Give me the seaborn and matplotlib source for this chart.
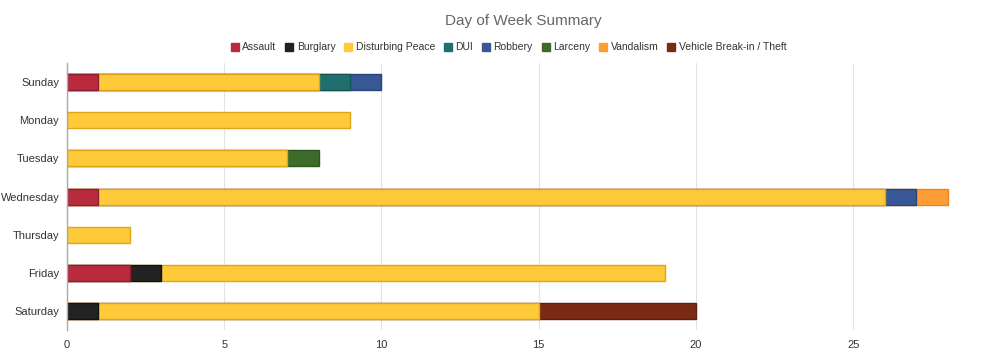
import numpy as np
import pandas as pd
import matplotlib
matplotlib.use("Agg")
import matplotlib.pyplot as plt
from matplotlib.lines import Line2D
import seaborn as sns

days = ["Sunday", "Monday", "Tuesday", "Wednesday", "Thursday", "Friday", "Saturday"]
crime_types = ["Assault", "Burglary", "Disturbing Peace", "DUI", "Robbery",
               "Larceny", "Vandalism", "Vehicle Break-in / Theft"]

assault = [1, 0, 0, 1, 0, 2, 0]
burglary = [0, 0, 0, 0, 0, 1, 1]
disturbing_peace = [7, 9, 7, 25, 2, 16, 14]
dui = [1, 0, 0, 0, 0, 0, 0]
robbery = [1, 0, 0, 1, 0, 0, 0]
larceny = [0, 0, 1, 0, 0, 0, 0]
vandalism = [0, 0, 0, 1, 0, 0, 0]
vehicle = [0, 0, 0, 0, 0, 0, 5]

colors = ["#b82a3e", "#222222", "#ffca3a", "#1f6f6f", "#385895",
          "#3d6b2c", "#ff9d35", "#7b2b14"]
edges = ["#8f1e2e", "#111111", "#e0a419", "#175656", "#2a4577",
         "#2f5420", "#e8852a", "#5e200e"]

sns.set_theme(style="white")
plt.rcParams["font.family"] = ["Liberation Sans", "DejaVu Sans"]

df = pd.DataFrame({"day": days, "Assault": assault, "Burglary": burglary,
                   "Disturbing Peace": disturbing_peace, "DUI": dui,
                   "Robbery": robbery, "Larceny": larceny,
                   "Vandalism": vandalism, "Vehicle Break-in / Theft": vehicle})
cum = df[crime_types].cumsum(axis=1)

fig = plt.figure(figsize=(9.85, 3.58), dpi=100)
ax = fig.add_axes([0.068, 0.078, 0.91, 0.746])

# draw cumulative totals from the top of the stack down so each layer shows its own segment
for i in range(len(crime_types) - 1, -1, -1):
    name = crime_types[i]
    tmp = pd.DataFrame({"day": days, "total": cum[name].values})
    n_before = len(ax.patches)
    sns.barplot(data=tmp, x="total", y="day", order=days, color=colors[i],
                edgecolor=edges[i], linewidth=1.0, width=0.42, errorbar=None,
                saturation=1, ax=ax)
    seg = df[name].values
    for p, v in zip(ax.patches[n_before:], seg):
        if v == 0:
            p.set_visible(False)

ax.set_xlim(0, 28.5)
ax.set_ylim(6.5, -0.5)
ax.set_xticks([0, 5, 10, 15, 20, 25])
ax.set_xlabel("")
ax.set_ylabel("")
ax.xaxis.grid(True, color="#e3e3e3", linewidth=0.8)
ax.set_axisbelow(True)
for s in ["top", "right", "bottom"]:
    ax.spines[s].set_visible(False)
ax.spines["left"].set_color("#aaaaaa")
ax.spines["left"].set_linewidth(1.0)

ax.tick_params(axis="y", which="major", length=0, pad=5.5, labelsize=8, labelcolor="#333333")
ax.tick_params(axis="x", which="major", length=0, pad=7, labelsize=8, labelcolor="#333333")
ax.set_yticks(np.arange(-0.5, 7.0, 1.0), minor=True)
ax.tick_params(axis="y", which="minor", length=5, color="#aaaaaa", width=1.0)

handles = [Line2D([0], [0], marker="s", linestyle="", markersize=5.5,
                  markerfacecolor=c, markeredgecolor=c) for c in colors]
fig.legend(handles, crime_types, loc="center", bbox_to_anchor=(0.516, 0.868),
           ncol=8, frameon=False, fontsize=7.5, handletextpad=0.25,
           columnspacing=0.8, handlelength=0.9, labelcolor="#333333")

fig.suptitle("Day of Week Summary", x=0.531, y=0.96, fontsize=11, color="#666666")

fig.savefig("out.png", dpi=100)
